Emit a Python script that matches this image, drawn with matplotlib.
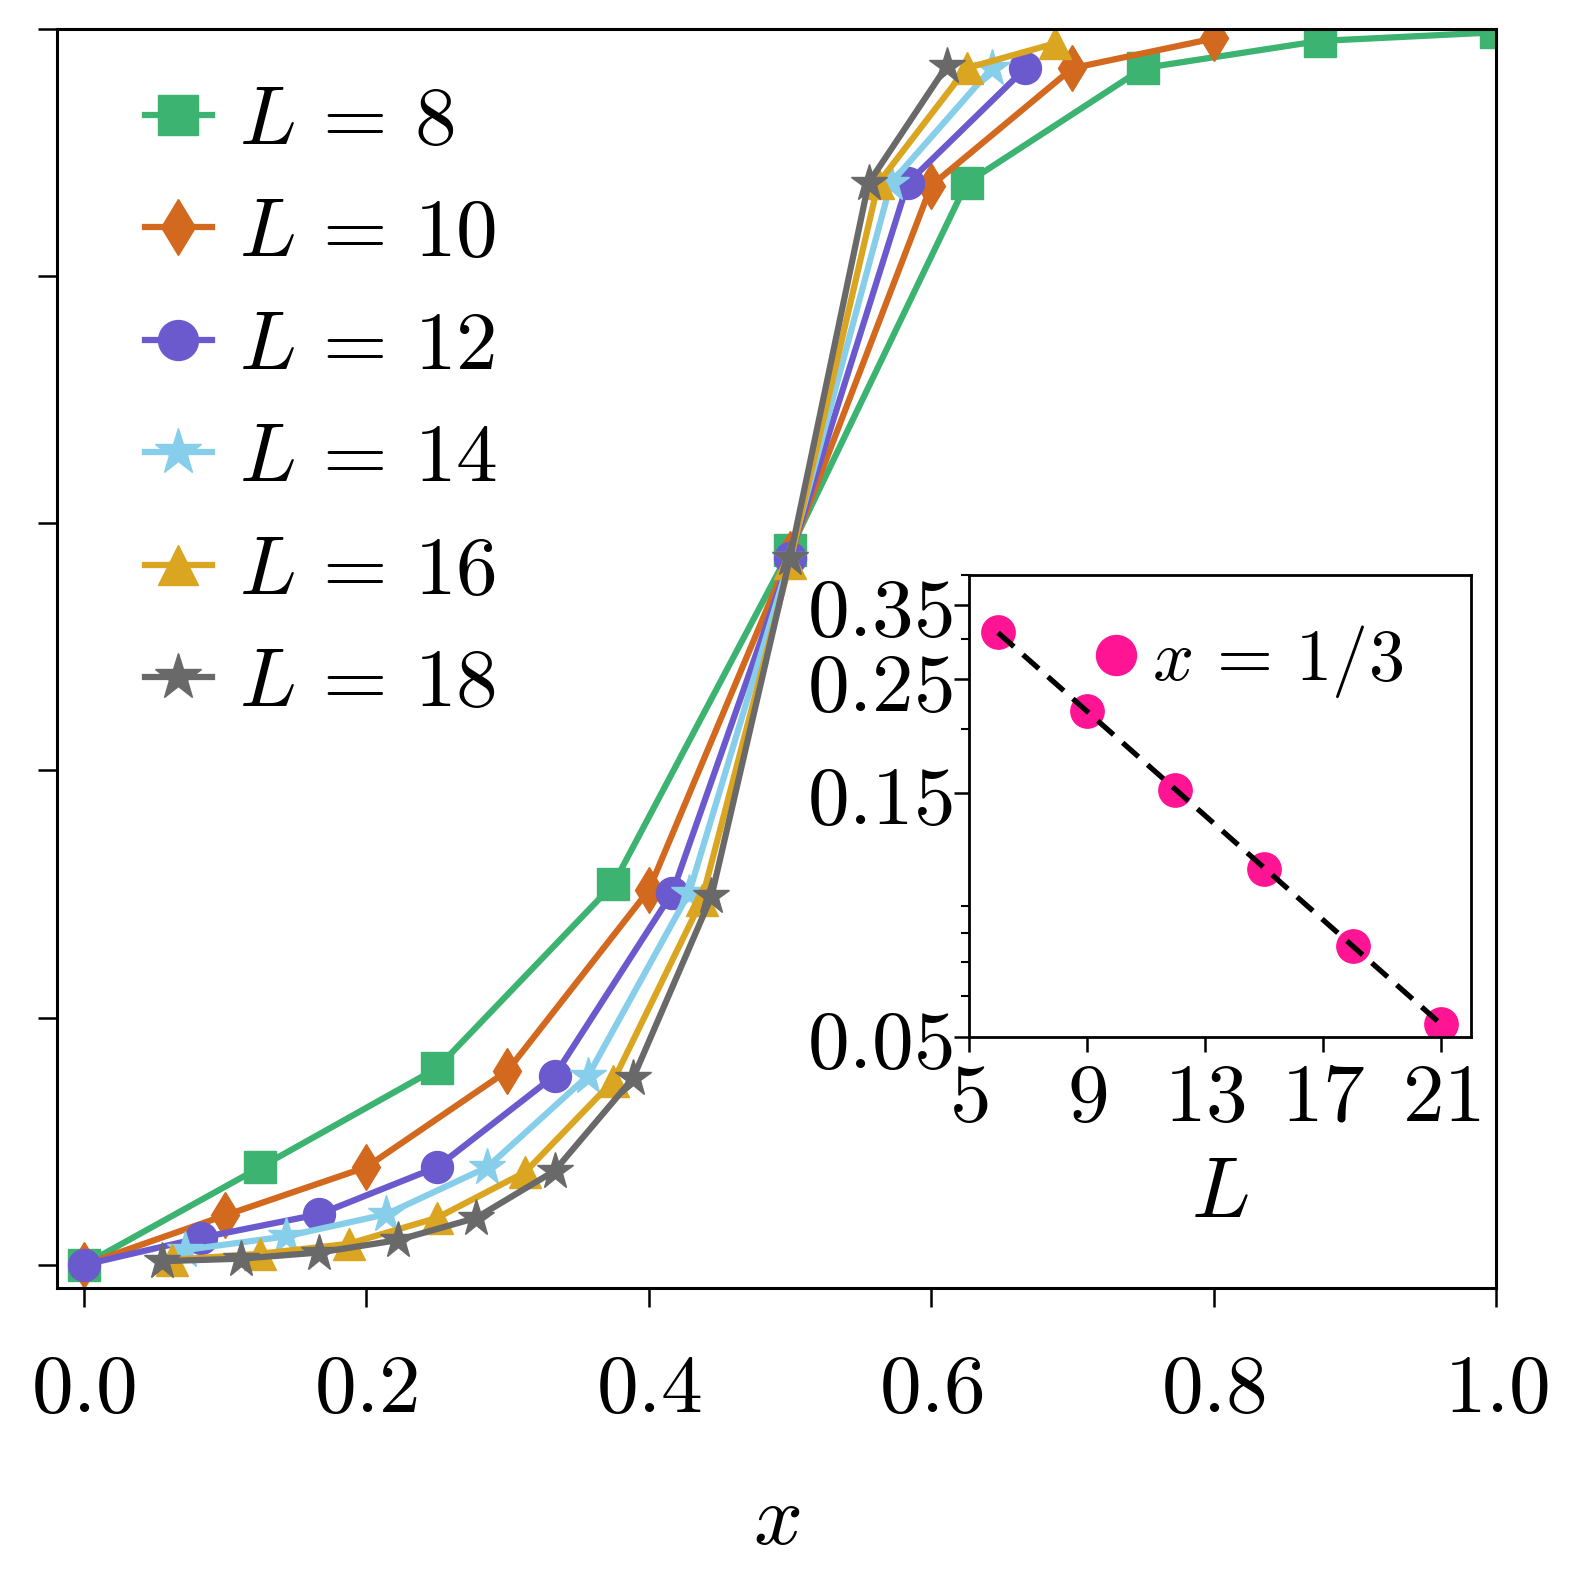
import matplotlib

matplotlib.use('Agg')
import matplotlib.pyplot as plt
import numpy as np

plt.rcParams['mathtext.fontset'] = 'cm'
plt.rcParams['font.family'] = ['DejaVu Serif']

# main panel: one curve per system size
sizes = [8, 10, 12, 14, 16, 18]
colors = ['#3CB371', '#D2691E', '#6A5ACD', '#87CEEB', '#DAA520', '#696969']
markers = ['s', 'd', 'o', '*', '^', '*']

x8 = [0, 0.125, 0.25, 0.375, 0.5, 0.625, 0.75, 0.875, 1.0]
y8 = [0, 0.079, 0.159, 0.308, 0.578, 0.875, 0.968, 0.990, 0.997]
x10 = [0, 0.1, 0.2, 0.3, 0.4, 0.5, 0.6, 0.7, 0.8]
y10 = [0, 0.040, 0.079, 0.157, 0.303, 0.575, 0.873, 0.968, 0.992]
x12 = [0, 0.0833, 0.1667, 0.25, 0.3333, 0.4167, 0.5, 0.5833, 0.6667]
y12 = [0, 0.022, 0.041, 0.079, 0.153, 0.301, 0.572, 0.875, 0.968]
x14 = [0.0714, 0.1429, 0.2143, 0.2857, 0.3571, 0.4286, 0.5, 0.5714, 0.6429]
y14 = [0.012, 0.023, 0.041, 0.079, 0.153, 0.301, 0.572, 0.875, 0.968]
x16 = [0.0625, 0.125, 0.1875, 0.25, 0.3125, 0.375, 0.4375, 0.5, 0.5625,
       0.625, 0.6875]
y16 = [0.004, 0.009, 0.017, 0.038, 0.075, 0.149, 0.295, 0.568, 0.875,
       0.968, 0.988]
x18 = [0.0556, 0.1111, 0.1667, 0.2222, 0.2778, 0.3333, 0.3889, 0.4444, 0.5,
       0.5556, 0.6111]
y18 = [0.003, 0.005, 0.010, 0.020, 0.038, 0.076, 0.151, 0.298, 0.572,
       0.875, 0.970]

xs = [x8, x10, x12, x14, x16, x18]
ys = [y8, y10, y12, y14, y16, y18]

xticks = [0.0, 0.2, 0.4, 0.6, 0.8, 1.0]
yticks = [0.0, 0.2, 0.4, 0.6, 0.8, 1.0]

# inset: value at x = 1/3 against L
ins_L = [6, 9, 12, 15, 18, 21]
ins_y = [0.309, 0.217, 0.152, 0.1066, 0.0752, 0.0531]
ins_xticks = [5, 9, 13, 17, 21]
ins_yticks = [0.05, 0.15, 0.25, 0.35]

fig = plt.figure(figsize=(15.8, 15.88), dpi=100)
ax = fig.add_axes([0.036, 0.189, 0.911, 0.793])

for L, x, y, c, m in zip(sizes, xs, ys, colors, markers):
    ms = 28 if m == '*' else 23
    ax.plot(x, y, color=c, marker=m, markersize=ms, lw=4.5,
            label=r'$L\,=\,%d$' % L)

ax.set_xlim(-0.019, 1.0)
ax.set_ylim(-0.0186, 1.0)
ax.set_xticks(xticks)
ax.set_xticklabels([r'$%.1f$' % v for v in xticks])
ax.set_yticks(yticks)
ax.set_yticklabels([])
ax.tick_params(axis='both', direction='out', length=14, width=1.8,
               labelsize=60)
ax.tick_params(axis='x', pad=30)
ax.set_xlabel(r'$x$', fontsize=62, labelpad=36)
for s in ax.spines.values():
    s.set_linewidth(2.2)

leg = ax.legend(loc='upper left', fontsize=60, frameon=False,
                markerscale=1.25, handlelength=0.8, handletextpad=0.33,
                labelspacing=0.39, bbox_to_anchor=(0.009, 1.018))

ins = fig.add_axes([0.613, 0.347, 0.318, 0.291])
ins.plot(ins_L, ins_y, 'o', color='#FF1493', markersize=24,
         label=r'$x\,=\,1/3$', zorder=2)
b, a = np.polyfit(ins_L, np.log(ins_y), 1)
Lf = np.array([ins_L[0], ins_L[-1]])
ins.plot(Lf, np.exp(a + b * Lf), '--', color='black', lw=3.8,
         dashes=(4, 2.3), zorder=3)
ins.set_yscale('log')
ins.set_xlim(5, 22)
ins.set_ylim(0.05, 0.4)
ins.set_xticks(ins_xticks)
ins.set_xticklabels([r'$%d$' % v for v in ins_xticks])
ins.set_yticks(ins_yticks)
ins.set_yticklabels([r'$%.2f$' % v for v in ins_yticks])
ins.tick_params(axis='both', which='major', direction='out', length=11,
                width=1.8, labelsize=60, pad=4)
ins.tick_params(axis='y', which='major', pad=0.5)
ins.tick_params(axis='y', which='minor', direction='out', length=5.5,
                width=1.5, labelleft=False)
ins.set_xlabel(r'$L$', fontsize=62, labelpad=10)
for s in ins.spines.values():
    s.set_linewidth(2.0)
ins.legend(loc='upper right', fontsize=52, frameon=False, markerscale=1.2,
           handlelength=0.6, handletextpad=0.2, borderaxespad=0.3,
           bbox_to_anchor=(0.965, 1.005))

fig.savefig('out.png', dpi=100)
